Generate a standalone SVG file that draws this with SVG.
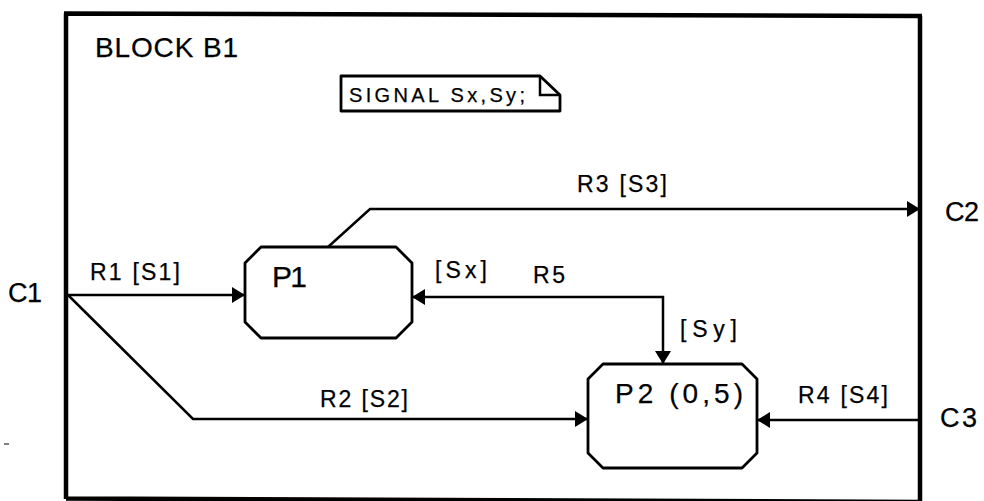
<svg xmlns="http://www.w3.org/2000/svg" width="984" height="501" viewBox="0 0 984 501">
<style>
  text { font-family: "Liberation Sans", Arial, sans-serif; fill: #000; stroke: #000; stroke-width: 0.25; }
  .lbl { font-size: 23px; }
  .big { font-size: 28px; }
  .ch { font-size: 27px; }
  .frame { fill: none; stroke: #000; stroke-width: 4.5; }
  .box { fill: #fff; stroke: #000; stroke-width: 2.8; stroke-linejoin: round; }
  .conn { fill: none; stroke: #000; stroke-width: 2.5; }
</style>
<defs>
  <marker id="ah" viewBox="0 0 13 16" refX="13" refY="8" markerWidth="13" markerHeight="16" markerUnits="userSpaceOnUse" orient="auto-start-reverse">
    <path d="M0,0 L13,8 L0,16 z" fill="#000"/>
  </marker>
</defs>
<rect width="984" height="501" fill="#fff"/>
<g id="frame">
  <path class="frame" d="M66,13.5 L66,499 M64,13.5 L922,16 L920,16 L920,502 M66,498.5 L920,502"/>
  <text class="big" x="95" y="57" textLength="143" lengthAdjust="spacing">BLOCK B1</text>
</g>
<g id="signal">
  <path class="box" d="M341,76 L540,76 L560,95 L560,111 L341,111 Z"/>
  <path class="conn" d="M540,76 L540,95 L560,95"/>
  <text x="349" y="102" font-size="20" textLength="176" lengthAdjust="spacing">SIGNAL Sx,Sy;</text>
</g>
<g id="connectors">
  <path class="conn" d="M68,295 L245,295" marker-end="url(#ah)"/>
  <path class="conn" d="M68,295 L193,419 L588,419" marker-end="url(#ah)"/>
  <path class="conn" d="M328,247 L370,209 L920,209" marker-end="url(#ah)"/>
  <path class="conn" d="M920,420 L757,420" marker-end="url(#ah)"/>
  <path class="conn" d="M412,297 L663,297 L663,364" marker-start="url(#ah)" marker-end="url(#ah)"/>
  <text class="lbl" x="90" y="280" textLength="90" lengthAdjust="spacing">R1 [S1]</text>
  <text class="lbl" x="320" y="407" textLength="88" lengthAdjust="spacing">R2 [S2]</text>
  <text class="lbl" x="577" y="192" textLength="90" lengthAdjust="spacing">R3 [S3]</text>
  <text class="lbl" x="798" y="403" textLength="90" lengthAdjust="spacing">R4 [S4]</text>
  <text class="lbl" x="533" y="283" textLength="32" lengthAdjust="spacing">R5</text>
  <text class="lbl" x="435" y="278" textLength="52" lengthAdjust="spacing">[Sx]</text>
  <text class="lbl" x="680" y="337" textLength="57" lengthAdjust="spacing">[Sy]</text>
</g>
<g id="P1">
  <polygon class="box" points="261,247 396,247 412,263 412,322 396,338 261,338 245,322 245,263"/>
  <text x="272" y="287" font-size="30" textLength="35" lengthAdjust="spacing">P1</text>
</g>
<g id="P2">
  <polygon class="box" points="603,364 742,364 757,379 757,453 742,468 603,468 588,453 588,379"/>
  <text class="big" x="615" y="403" textLength="128" lengthAdjust="spacing">P2 (0,5)</text>
</g>
<g id="C1"><text class="ch" x="8" y="302" textLength="34" lengthAdjust="spacing">C1</text></g>
<g id="C2"><text class="ch" x="945" y="221" textLength="34" lengthAdjust="spacing">C2</text></g>
<g id="C3"><text class="ch" x="940" y="427" textLength="37" lengthAdjust="spacing">C3</text></g>
<line x1="4" y1="444" x2="9" y2="444" stroke="#000" stroke-width="1"/>
</svg>
